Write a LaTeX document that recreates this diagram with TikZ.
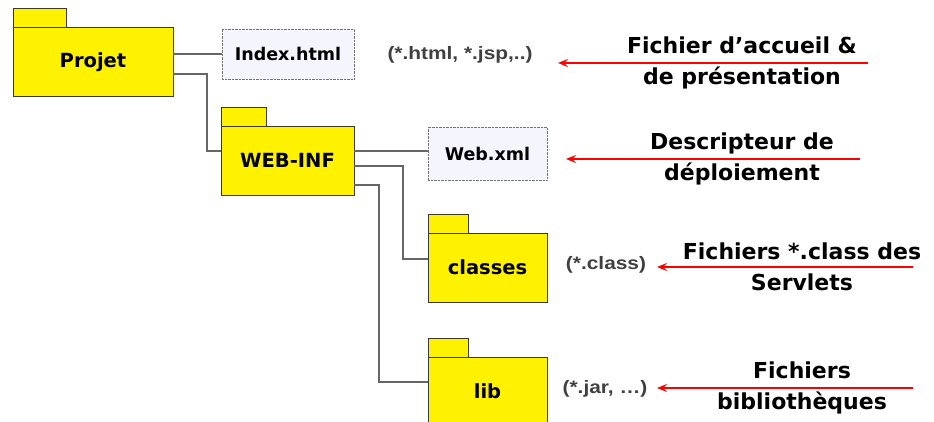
\documentclass[tikz,border=0pt]{standalone}
\usepackage{fontspec}
\setmainfont{DejaVu Sans}
\newfontfamily\extfont[FakeStretch=1.16]{Liberation Sans}
\usetikzlibrary{arrows.meta}

\begin{document}
\begin{tikzpicture}
[x=1pt,y=-1pt,
  folderDecorate/.style={shape=rectangle,draw=black!75!olive,fill=yellow,thin,inner sep=0pt,outer sep=0pt,minimum height=69pt,font=\bfseries\fontsize{19.5}{22}\selectfont},%
  tabDecorate/.style={draw=black!75!olive,fill=yellow,thin},%
  fileDecorate/.style={shape=rectangle,draw=black!55,densely dotted,fill=gray!12!blue!4,inner sep=0pt,outer sep=0pt,font=\bfseries\fontsize{17.5}{20}\selectfont},%
  lineDecorate/.style={-,draw=black!60,line width=1.4pt},%
  extDecorate/.style={text=black!75,font=\extfont\bfseries\fontsize{18}{21}\selectfont},%
  descDecorate/.style={align=center,font=\bfseries\fontsize{22}{30.5}\selectfont},%
  arrowDecorate/.style={-{Stealth[length=10pt,width=8pt,inset=4pt]},red,line width=1.1pt}]
\clip (0,0) rectangle (934,422);
%% folders
\foreach \name/\x/\y/\w/\label in {proj/93/62/160/Projet, webinf/287.5/160.5/133/WEB-INF, classes/487.5/267.5/119/classes, lib/487.5/391.5/119/lib} {
  \node (\name) at (\x,\y) [folderDecorate,minimum width=\w pt] {\label};
}
\foreach \name/\w in {proj/53, webinf/45, classes/40, lib/40} {
  \draw[tabDecorate] (\name.north west) rectangle ++(\w,-19);
}
%% files
\foreach \name/\x/\y/\w/\h/\label in {index/288/54/132/50/Index.html, webxml/487.5/153.5/119/53/Web.xml} {
  \node (\name) at (\x,\y) [fileDecorate,minimum width=\w pt,minimum height=\h pt] {\label};
}
%% tree lines
\draw[lineDecorate] (proj.east |- index.west) -- (index.west);
\draw[lineDecorate] ([yshift=-12pt]proj.east) -- ++(34,0) |- ([yshift=9.5pt]webinf.west);
\draw[lineDecorate] ([yshift=9.5pt]webinf.east) -- ([yshift=9.5pt]webinf.east -| webxml.west);
\draw[lineDecorate] ([yshift=-5.5pt]webinf.east) -- ++(49,0) |- ([yshift=8.5pt]classes.west);
\draw[lineDecorate] ([yshift=-24.5pt]webinf.east) -- ++(25,0) |- ([yshift=9.5pt]lib.west);
%% extensions
\foreach \name/\x/\y/\label in {ext1/460/55/{(*.html, *.jsp,..)}, ext2/606/265/{(*.class)}, ext3/605/389/{(*.jar, \dots)}} {
  \node (\name) at (\x,\y) [extDecorate] {\label};
}
%% descriptions and arrows
\foreach \i/\x/\y/\xs/\xe/\label in {1/742/63/868/558/{Fichier d’accueil \&\\de présentation}, 2/742/159/860/566/{Descripteur de\\déploiement}, 3/802/267/913/657/{Fichiers *.class des\\Servlets}, 4/802/388/913/657/{Fichiers\\bibliothèques}} {
  \node (desc\i) at (\x,\y) [descDecorate] {\label};
  \coordinate (s\i) at (\xs,\y);
  \coordinate (e\i) at (\xe,\y);
  \draw[arrowDecorate] (s\i) -- (e\i);
}
\end{tikzpicture}
\end{document}
